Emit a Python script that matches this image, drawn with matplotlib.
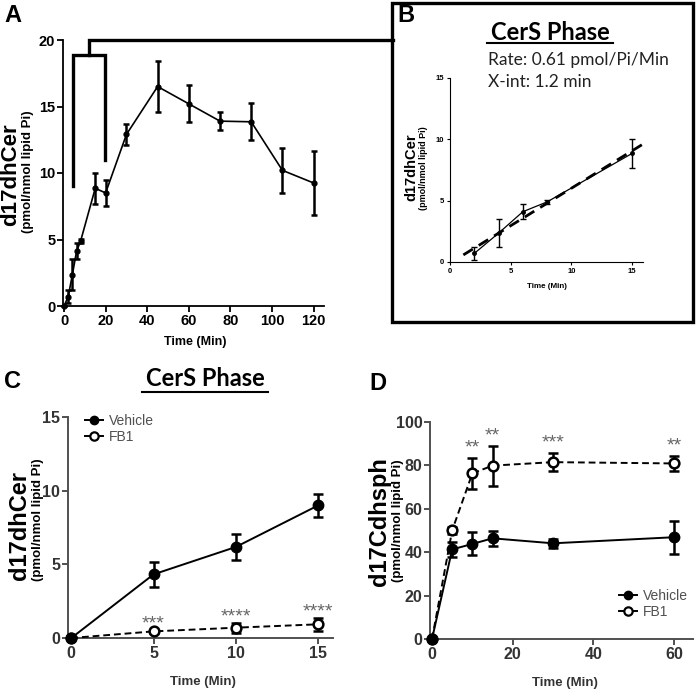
import numpy as np
import matplotlib
matplotlib.use("Agg")
import matplotlib.pyplot as plt
from matplotlib.patches import Rectangle
from matplotlib.lines import Line2D

# ---- data ----
# Panel A: time course
a_time = [0, 2, 4, 6, 8, 15, 20, 30, 45, 60, 75, 90, 105, 120]
a_val = [0, 0.7, 2.35, 4.1, 4.9, 8.85, 8.5, 12.9, 16.5, 15.2, 13.9, 13.85, 10.2, 9.25]
a_err = [0, 0.5, 1.15, 0.6, 0.15, 1.15, 1.0, 0.8, 1.9, 1.4, 0.7, 1.4, 1.7, 2.4]

# Panel B: CerS phase (first 15 min)
b_time = [2, 4, 6, 8, 15]
b_val = [0.7, 2.35, 4.1, 4.9, 8.85]
b_err = [0.5, 1.15, 0.6, 0.15, 1.15]
b_rate_text = "Rate: 0.61 pmol/Pi/Min"
b_xint_text = "X-int: 1.2 min"

# Panel C: d17dhCer, vehicle vs FB1
c_time = [0, 5, 10, 15]
c_vehicle = [0, 4.32, 6.18, 9.0]
c_vehicle_err = [0, 0.85, 0.9, 0.8]
c_fb1 = [0, 0.45, 0.7, 0.93]
c_fb1_err = [0, 0.1, 0.35, 0.45]
c_sig = ["", "***", "****", "****"]

# Panel D: d17Cdhsph, vehicle vs FB1
d_time = [0, 5, 10, 15, 30, 60]
d_vehicle = [0, 41.3, 43.8, 46.4, 44.1, 46.9]
d_vehicle_err = [0, 3.4, 5.3, 3.5, 2.2, 7.6]
d_fb1 = [0, 50.1, 76.3, 79.9, 81.5, 80.9]
d_fb1_err = [0, 1.5, 7.3, 9.2, 4.2, 3.4]
d_sig = ["", "", "**", "**", "***", "**"]

W, H = 697, 696
SANS = "Liberation Sans"
CAL = "Lato"
GRAY = "#505050"

fig = plt.figure(figsize=(W / 100, H / 100), dpi=100)


def px_axes(left, top, right, bottom):
    return fig.add_axes([left / W, 1 - bottom / H, (right - left) / W, (bottom - top) / H])


def ftext(x, y, s, **kw):
    return fig.text(x / W, 1 - y / H, s, **kw)


def style_axes(ax, color, lw, ticklen, fsize, labcolor="black"):
    for s in ["top", "right"]:
        ax.spines[s].set_visible(False)
    for s in ["left", "bottom"]:
        ax.spines[s].set_color(color)
        ax.spines[s].set_linewidth(lw)
    ax.tick_params(direction="out", length=ticklen, width=lw, color=color,
                   labelsize=fsize, pad=1.5, labelcolor=labcolor)
    for lab in ax.get_xticklabels() + ax.get_yticklabels():
        lab.set_fontweight("bold")
        lab.set_family(SANS)


# ---- Panel A ----
axA = px_axes(63, 40, 324, 306)
axA.errorbar(a_time, a_val, yerr=a_err, color="black", lw=1.2, marker="o", ms=3.5,
             elinewidth=1.8, capsize=2.5, capthick=1.8, clip_on=False, zorder=3)
axA.set_xlim(-0.5, 125)
axA.set_ylim(0, 20)
axA.set_xticks([0, 20, 40, 60, 80, 100, 120])
axA.set_yticks([0, 5, 10, 15, 20])
style_axes(axA, "black", 1.3, 4, 10.5)
# bracket marking the CerS phase
axA.plot([4.5, 4.5, 19.5, 19.5], [9, 18.9, 18.9, 11], color="black", lw=2.4,
         clip_on=False, solid_joinstyle="miter")
axA.plot([12, 12, 158], [18.9, 20, 20], color="black", lw=2.4, clip_on=False,
         solid_joinstyle="miter")
ftext(11, 175, "d17dhCer", rotation=90, ha="center", va="center",
      fontsize=16, fontweight="bold", family=SANS)
ftext(28, 172, "(pmol/nmol lipid Pi)", rotation=90, ha="center", va="center",
      fontsize=9.5, fontweight="bold", family=SANS)
ftext(195, 342, "Time (Min)", ha="center", va="center", fontsize=9,
      fontweight="bold", family=SANS)
ftext(4, 16, "A", ha="left", va="center", fontsize=17, fontweight="bold", family=SANS)

# ---- Panel B ----
fig.patches.append(Rectangle((392 / W, 1 - 322 / H), (693 - 392) / W, (322 - 3) / H,
                             transform=fig.transFigure, fill=False, lw=2.4,
                             edgecolor="black"))
axB = px_axes(450, 78, 643, 262)
axB.errorbar(b_time, b_val, yerr=b_err, color="black", lw=0.9, marker="o", ms=2.5,
             elinewidth=1.0, capsize=2, capthick=1.0, zorder=3)
slope, icpt = np.polyfit(b_time, b_val, 1)
fit_x = np.array([1.1, 16.1])
axB.plot(fit_x, slope * fit_x + icpt, color="black", lw=2, ls=(0, (4, 2.5)),
         clip_on=False, zorder=2)
axB.set_xlim(0, 15.9)
axB.set_ylim(0, 15)
axB.set_xticks([0, 5, 10, 15])
axB.set_yticks([0, 5, 10, 15])
style_axes(axB, "black", 0.8, 2.5, 5.5)
ftext(411, 167, "d17dhCer", rotation=90, ha="center", va="center",
      fontsize=10.5, fontweight="bold", family=SANS)
ftext(424, 168, "(pmol/nmol lipid Pi)", rotation=90, ha="center", va="center",
      fontsize=6.5, fontweight="bold", family=SANS)
ftext(547, 287, "Time (Min)", ha="center", va="center", fontsize=5.8,
      fontweight="bold", family=SANS)
ftext(397, 16, "B", ha="left", va="center", fontsize=17, fontweight="bold", family=SANS)
ftext(550, 33, "CerS Phase", ha="center", va="center", fontsize=17,
      fontweight="bold", family=CAL)
fig.add_artist(Line2D([487 / W, 613 / W], [1 - 43 / H, 1 - 43 / H], color="black",
                      lw=1.5, transform=fig.transFigure))
ftext(488, 60, b_rate_text, ha="left", va="center", fontsize=12.5, family=CAL,
      color="#222222")
ftext(488, 82, b_xint_text, ha="left", va="center", fontsize=12.5, family=CAL,
      color="#222222")


def pair_panel(ax, t, veh, veh_err, fb, fb_err, sig, sig_pad):
    ax.errorbar(t, veh, yerr=veh_err, color="black", lw=1.4, marker="o", ms=7.5,
                elinewidth=1.8, capsize=3.5, capthick=1.8, clip_on=False, zorder=4)
    ax.errorbar(t, fb, yerr=fb_err, color="black", lw=1.4, ls=(0, (3.5, 2)),
                marker="o", ms=7, mfc="white", mec="black", mew=1.8,
                elinewidth=1.8, capsize=3.5, capthick=1.8, clip_on=False, zorder=3)
    for x, y, e, s in zip(t, fb, fb_err, sig):
        if s:
            ax.text(x, y + e + sig_pad, s, ha="center", va="center", fontsize=14,
                    color="#666666", family=SANS)


def add_legend(ax, x, y):
    handles = [Line2D([], [], color="black", lw=1.4, marker="o", ms=6),
               Line2D([], [], color="black", lw=1.4, marker="o", ms=6, mfc="white",
                      mew=1.6)]
    leg = ax.legend(handles, ["Vehicle", "FB1"], loc="upper left",
                    bbox_to_anchor=(x / W, 1 - y / H), bbox_transform=fig.transFigure,
                    frameon=False, fontsize=10, handlelength=1.3, handletextpad=0.4,
                    labelspacing=0.15, borderpad=0, borderaxespad=0)
    for tx in leg.get_texts():
        tx.set_color(GRAY)
        tx.set_family(SANS)
    return leg


# ---- Panel C ----
axC = px_axes(68, 417, 333, 638)
pair_panel(axC, c_time, c_vehicle, c_vehicle_err, c_fb1, c_fb1_err, c_sig, 0.4)
axC.set_xlim(-0.2, 15.9)
axC.set_ylim(0, 15)
axC.set_xticks([0, 5, 10, 15])
axC.set_yticks([0, 5, 10, 15])
style_axes(axC, GRAY, 1.4, 4, 11.5, "#333333")
add_legend(axC, 85, 414)
ftext(20, 525, "d17dhCer", rotation=90, ha="center", va="center",
      fontsize=17, fontweight="bold", family=SANS)
ftext(38, 520, "(pmol/nmol lipid Pi)", rotation=90, ha="center", va="center",
      fontsize=9.5, fontweight="bold", family=SANS)
ftext(203, 682, "Time (Min)", ha="center", va="center", fontsize=9.5,
      fontweight="bold", family=SANS, color="#333333")
ftext(4, 381, "C", ha="left", va="center", fontsize=17, fontweight="bold", family=SANS)
ftext(205, 378, "CerS Phase", ha="center", va="center", fontsize=17,
      fontweight="bold", family=CAL)
fig.add_artist(Line2D([142 / W, 268 / W], [1 - 392 / H, 1 - 392 / H], color="black",
                      lw=1.5, transform=fig.transFigure))

# ---- Panel D ----
axD = px_axes(430, 422, 693, 639)
pair_panel(axD, d_time, d_vehicle, d_vehicle_err, d_fb1, d_fb1_err, d_sig, 4.5)
axD.set_xlim(-0.5, 64.7)
axD.set_ylim(0, 100)
axD.set_xticks([0, 20, 40, 60])
axD.set_yticks([0, 20, 40, 60, 80, 100])
style_axes(axD, GRAY, 1.4, 4, 11.5, "#333333")
add_legend(axD, 619, 589)
ftext(380, 522, "d17Cdhsph", rotation=90, ha="center", va="center",
      fontsize=17, fontweight="bold", family=SANS)
ftext(398, 521, "(pmol/nmol lipid Pi)", rotation=90, ha="center", va="center",
      fontsize=9.5, fontweight="bold", family=SANS)
ftext(565, 683, "Time (Min)", ha="center", va="center", fontsize=9.5,
      fontweight="bold", family=SANS, color="#333333")
ftext(369, 383, "D", ha="left", va="center", fontsize=17, fontweight="bold", family=SANS)

fig.savefig("out.png", dpi=100)
